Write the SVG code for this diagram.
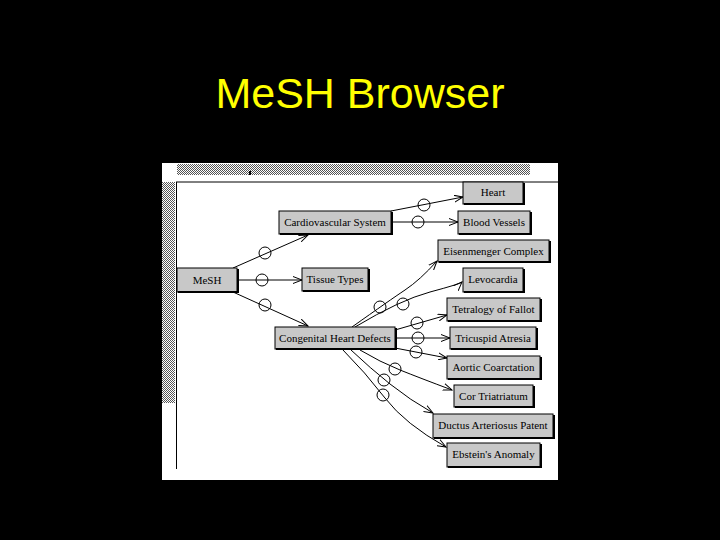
<svg xmlns="http://www.w3.org/2000/svg" width="720" height="540" viewBox="0 0 720 540">
<defs>
<pattern id="chk" width="2" height="2" patternUnits="userSpaceOnUse">
<rect width="2" height="2" fill="#fff"/>
<rect width="1" height="1" fill="#555"/>
<rect x="1" y="1" width="1" height="1" fill="#555"/>
</pattern>
<marker id="ar" markerWidth="10" markerHeight="8" refX="9" refY="4" orient="auto" markerUnits="userSpaceOnUse">
<path d="M0,0.5 L9,4 L0,7.5" fill="none" stroke="#000" stroke-width="1"/>
</marker>
<style>
.n rect{fill:#c8c8c8;stroke:#000;stroke-width:1}
.n path{fill:none;stroke:#000;stroke-width:2}
.n text{font-family:"Liberation Serif","Times New Roman",serif;font-size:11px;fill:#000;text-anchor:middle}
.e path{fill:none;stroke:#000;stroke-width:1;marker-end:url(#ar)}
.e circle{fill:none;stroke:#000;stroke-width:1}
</style>
</defs>
<rect width="720" height="540" fill="#000"/>
<text x="360" y="108" font-family="Liberation Sans, Arial, sans-serif" font-size="43" fill="#ffff00" text-anchor="middle">MeSH Browser</text>
<g id="panel">
<rect x="162" y="163" width="396" height="317" fill="#fff"/>
<rect x="177" y="164" width="353" height="11" fill="url(#chk)"/>
<rect x="249" y="171" width="2" height="4" fill="#000"/>
<rect x="162" y="182" width="13" height="221" fill="url(#chk)"/>
<line x1="176" y1="182" x2="558" y2="182" stroke="#000" stroke-width="1"/>
<line x1="176.5" y1="182" x2="176.5" y2="469" stroke="#000" stroke-width="1"/>
</g>
<g id="connectors" class="e">
<path d="M391,211 L463,197"/><circle cx="424" cy="205" r="6"/>
<path d="M391,222 L458,222"/><circle cx="418" cy="222" r="6"/>
<path d="M233,268 L308,235"/><circle cx="265" cy="253" r="6"/>
<path d="M237,280 L302,280"/><circle cx="262" cy="280" r="6"/>
<path d="M233,292 L308,326"/><circle cx="265" cy="305" r="6"/>
<path d="M352,327 Q390,300 405,290 T437,261"/><circle cx="380" cy="307" r="6"/>
<path d="M355,327 Q400,300 430,292 T462,282"/><circle cx="403" cy="304" r="6"/>
<path d="M395,330 L447,315"/><circle cx="417" cy="323" r="6"/>
<path d="M395,338 L450,338"/><circle cx="418" cy="338" r="6"/>
<path d="M395,348 L447,358"/><circle cx="416" cy="352" r="6"/>
<path d="M360,350 Q380,362 400,370 T452,390"/><circle cx="395" cy="369" r="6"/>
<path d="M351,350 Q370,368 390,384 T433,413"/><circle cx="384" cy="380" r="6"/>
<path d="M343,350 Q365,372 385,398 T446,447"/><circle cx="383" cy="395" r="6"/>
</g>
<g id="n-heart" class="n"><rect x="463" y="182" width="60" height="22"/><path d="M464,204 H524 V183"/><text x="493" y="196">Heart</text></g>
<g id="n-cardio" class="n"><rect x="279" y="211" width="112" height="23"/><path d="M280,234 H392 V212"/><text x="335" y="226">Cardiovascular System</text></g>
<g id="n-blood" class="n"><rect x="458" y="211" width="72" height="23"/><path d="M459,234 H531 V212"/><text x="494" y="226">Blood Vessels</text></g>
<g id="n-eisen" class="n"><rect x="438" y="240" width="111" height="22"/><path d="M439,262 H550 V241"/><text x="493.5" y="255">Eisenmenger Complex</text></g>
<g id="n-mesh" class="n"><rect x="177" y="268" width="60" height="24"/><path d="M178,292 H238 V269"/><text x="207" y="284">MeSH</text></g>
<g id="n-tissue" class="n"><rect x="302" y="268" width="66" height="23"/><path d="M303,291 H369 V269"/><text x="335" y="283">Tissue Types</text></g>
<g id="n-levo" class="n"><rect x="463" y="268" width="60" height="24"/><path d="M464,292 H524 V269"/><text x="493" y="283">Levocardia</text></g>
<g id="n-tetra" class="n"><rect x="447" y="298" width="93" height="23"/><path d="M448,321 H541 V299"/><text x="493.5" y="313">Tetralogy of Fallot</text></g>
<g id="n-cong" class="n"><rect x="275" y="327" width="120" height="22"/><path d="M276,349 H396 V328"/><text x="335" y="342">Congenital Heart Defects</text></g>
<g id="n-tric" class="n"><rect x="450" y="327" width="86" height="22"/><path d="M451,349 H537 V328"/><text x="493" y="342">Tricuspid Atresia</text></g>
<g id="n-aortic" class="n"><rect x="447" y="356" width="93" height="23"/><path d="M448,379 H541 V357"/><text x="493.5" y="371">Aortic Coarctation</text></g>
<g id="n-cor" class="n"><rect x="454" y="385" width="79" height="22"/><path d="M455,407 H534 V386"/><text x="493.5" y="400">Cor Triatriatum</text></g>
<g id="n-ductus" class="n"><rect x="433" y="414" width="120" height="24"/><path d="M434,438 H554 V415"/><text x="493" y="429">Ductus Arteriosus Patent</text></g>
<g id="n-ebstein" class="n"><rect x="447" y="443" width="93" height="24"/><path d="M448,467 H541 V444"/><text x="493.5" y="458">Ebstein's Anomaly</text></g>
</svg>
